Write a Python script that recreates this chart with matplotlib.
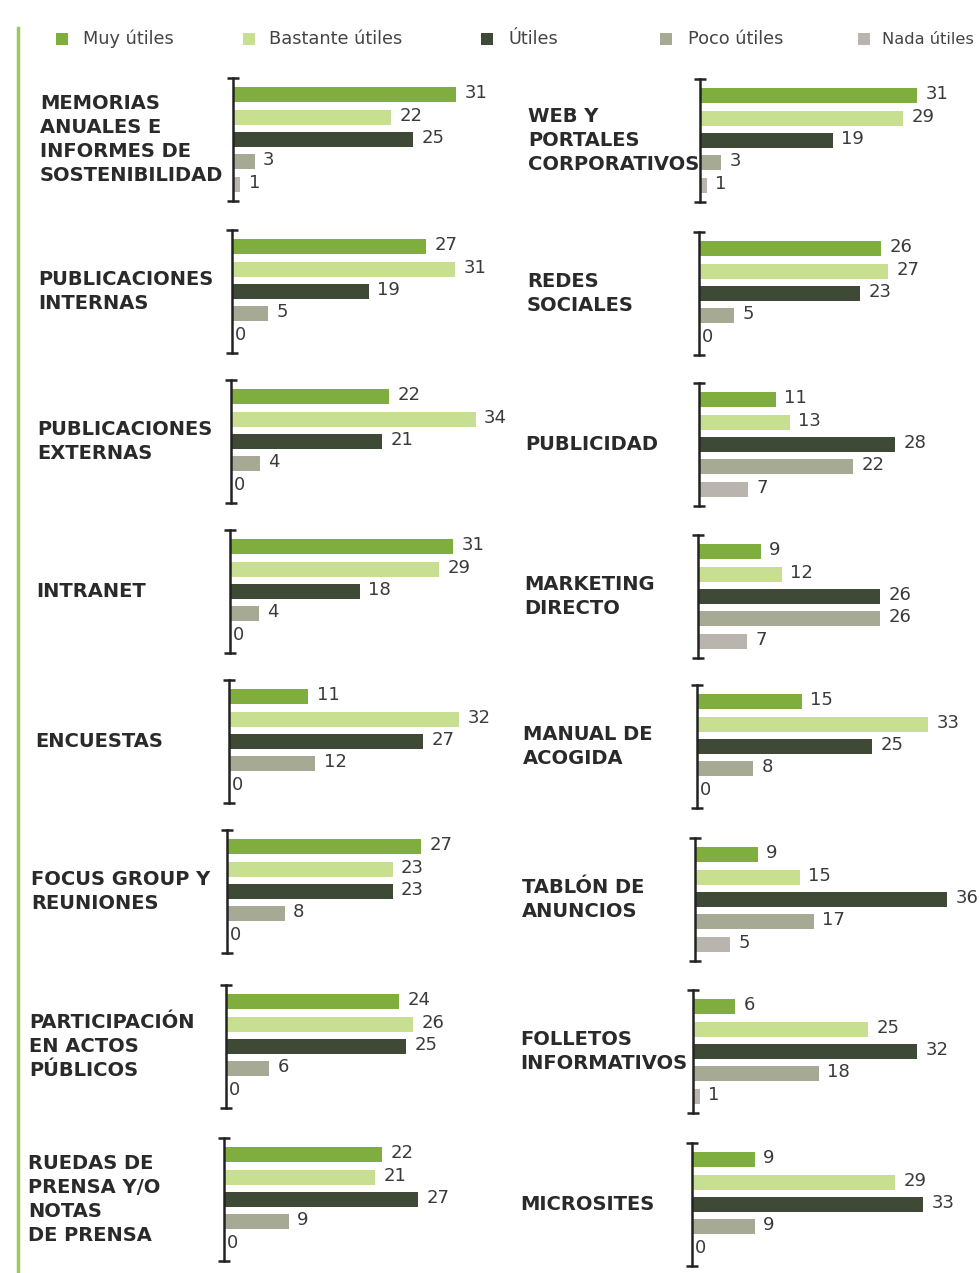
import matplotlib
matplotlib.use("Agg")
import matplotlib.pyplot as plt
from matplotlib.patches import Rectangle
from matplotlib.lines import Line2D

series = ["Muy útiles", "Bastante útiles", "Útiles", "Poco útiles", "Nada útiles"]
colors = ["#7fae3e", "#c8df92", "#3f4a36", "#a6aa94", "#bab4ae"]

left_labels = [
    "MEMORIAS\nANUALES E\nINFORMES DE\nSOSTENIBILIDAD",
    "PUBLICACIONES\nINTERNAS",
    "PUBLICACIONES\nEXTERNAS",
    "INTRANET",
    "ENCUESTAS",
    "FOCUS GROUP Y\nREUNIONES",
    "PARTICIPACIÓN\nEN ACTOS\nPÚBLICOS",
    "RUEDAS DE\nPRENSA Y/O\nNOTAS\nDE PRENSA",
]
left_values = [
    [31, 22, 25, 3, 1],
    [27, 31, 19, 5, 0],
    [22, 34, 21, 4, 0],
    [31, 29, 18, 4, 0],
    [11, 32, 27, 12, 0],
    [27, 23, 23, 8, 0],
    [24, 26, 25, 6, 0],
    [22, 21, 27, 9, 0],
]
right_labels = [
    "WEB Y\nPORTALES\nCORPORATIVOS",
    "REDES\nSOCIALES",
    "PUBLICIDAD",
    "MARKETING\nDIRECTO",
    "MANUAL DE\nACOGIDA",
    "TABLÓN DE\nANUNCIOS",
    "FOLLETOS\nINFORMATIVOS",
    "MICROSITES",
]
right_values = [
    [31, 29, 19, 3, 1],
    [26, 27, 23, 5, 0],
    [11, 13, 28, 22, 7],
    [9, 12, 26, 26, 7],
    [15, 33, 25, 8, 0],
    [9, 15, 36, 17, 5],
    [6, 25, 32, 18, 1],
    [9, 29, 33, 9, 0],
]

W, H = 980, 1273
fig = plt.figure(figsize=(W / 100, H / 100), dpi=100)
fig.patch.set_facecolor("white")

def px_rect(x, y_top, w, h):
    return [x / W, 1 - (y_top + h) / H, w / W, h / H]

# page green border line
fig.add_artist(Line2D([18 / W, 18 / W], [0, 1 - 28 / H], color="#9ec95c", lw=2.5))

# legend
leg_sq = [62, 249, 487, 666, 864]
leg_tx = [83, 269, 508, 688, 882]
leg_fs = [12.8, 12.8, 12.8, 12.8, 11.7]
for i, s in enumerate(series):
    fig.add_artist(Rectangle(((leg_sq[i] - 6) / W, 1 - 45 / H), 12 / W, 12 / H,
                             facecolor=colors[i], edgecolor="none"))
    fig.text(leg_tx[i] / W, 1 - 39 / H, s, fontsize=leg_fs[i], color="#444444",
             va="center", ha="left", family="DejaVu Sans")

cols = [
    dict(labels=left_labels, values=left_values,
         tops=[78, 230, 380, 530, 680, 830, 985, 1138],
         xs=[233, 232, 231, 230, 229, 227, 226, 224],
         lx=[40, 38, 37, 36, 35, 31, 29, 28], scale=7.2, width=290),
    dict(labels=right_labels, values=right_values,
         tops=[79, 232, 383, 535, 685, 838, 990, 1143],
         xs=[700, 699, 699, 698, 697, 695, 693, 692],
         lx=[528, 527, 525, 524, 523, 522, 520, 520], scale=7.0, width=285),
]

PH = 123
for col in cols:
    for k in range(8):
        ax = fig.add_axes(px_rect(col["xs"][k], col["tops"][k], col["width"], PH))
        ax.set_xlim(0, col["width"] / col["scale"])
        ax.set_ylim(4.75, -0.75)
        ax.axis("off")
        vals = col["values"][k]
        ypos = list(range(5))
        ax.barh(ypos, vals, height=0.66, color=colors, edgecolor="none")
        for y, v in zip(ypos, vals):
            ax.annotate(str(v), (v, y), xytext=(6 if v > 0 else 2, 1),
                        textcoords="offset points", va="center", ha="left",
                        fontsize=13, color="#3a3a3a", family="DejaVu Sans")
        ax.plot([0, 0], [-0.75, 4.75], color="#222222", lw=1.8,
                marker="_", markersize=9, mew=1.8, clip_on=False, zorder=5)
        cy = col["tops"][k] + PH / 2
        fig.text(col["lx"][k] / W, 1 - cy / H, col["labels"][k],
                 fontsize=14, fontweight="bold", color="#2a2a2a",
                 va="center", ha="left", linespacing=1.34, family="DejaVu Sans")

fig.savefig("out.png", dpi=100, facecolor="white")
